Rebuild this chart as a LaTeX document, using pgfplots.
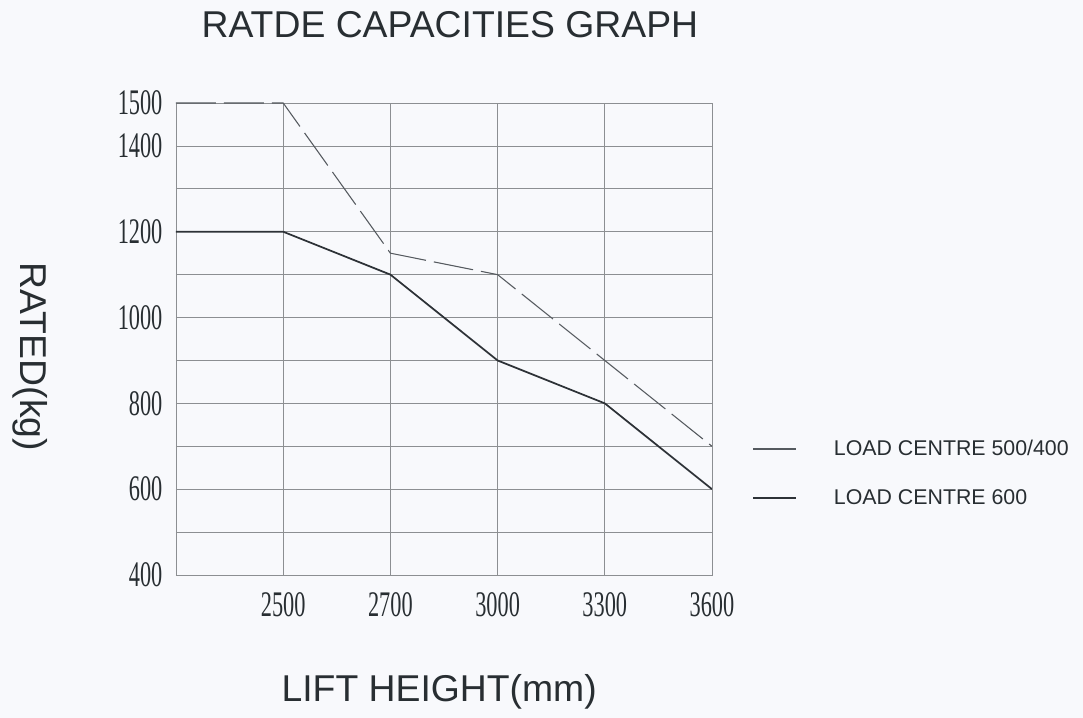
\documentclass[border=0pt]{standalone}
\usepackage{pgfplots}
\pgfplotsset{compat=1.18}
\usepackage{fontspec}
\setmainfont{Liberation Sans}
\newfontfamily\tickfont{Liberation Serif}
\usepackage{graphicx}

\definecolor{bgc}{RGB}{248,249,252}
\definecolor{gridc}{RGB}{140,143,146}
\definecolor{txt}{RGB}{40,46,50}
\definecolor{lineA}{RGB}{85,90,95}
\definecolor{lineB}{RGB}{45,50,55}

% condensed tick numbers
\newcommand\cnum[1]{\scalebox{0.62}[1]{\tickfont\fontsize{27}{27}\selectfont #1}}

\begin{document}
\begin{tikzpicture}
  \fill[bgc] (-132pt,-107.25pt) rectangle (680.25pt,431.25pt);
  \begin{axis}[
      at={(0,0)}, anchor=south west,
      scale only axis,
      width=402pt, height=354pt,
      xmin=0, xmax=5, ymin=400, ymax=1500,
      xtick={1,2,3,4,5},
      xticklabels={\cnum{2500},\cnum{2700},\cnum{3000},\cnum{3300},\cnum{3600}},
      ytick={400,500,...,1500},
      yticklabels={\cnum{400},,\cnum{600},,\cnum{800},,\cnum{1000},,\cnum{1200},,\cnum{1400},\cnum{1500}},
      major tick length=0pt,
      grid=major,
      grid style={gridc, line width=0.6pt},
      axis line style={gridc, line width=0.7pt},
      ticklabel style={text=txt, inner sep=0pt},
      xticklabel style={anchor=north, yshift=-13pt},
      yticklabel style={anchor=east, xshift=-10pt},
      title={RATDE CAPACITIES GRAPH},
      title style={at={(0.511,1.150)}, anchor=center, font=\fontsize{28}{28}\selectfont, text=txt},
      xlabel={LIFT HEIGHT(mm)},
      ylabel={RATED(kg)},
      every axis x label/.style={at={(rel axis cs:0.491,-0.2476)}, anchor=center, font=\fontsize{28}{28}\selectfont, text=txt},
      every axis y label/.style={at={(rel axis cs:-0.2724,0.462)}, anchor=center, rotate=-90, font=\fontsize{28}{28}\selectfont, text=txt},
      legend style={at={(rel axis cs:1.0746,0.286)}, anchor=north west, draw=none, fill=none,
        font=\fontsize{16}{16}\selectfont, text=txt, row sep=24pt, column sep=28pt,
        nodes={inner sep=0pt}, inner sep=0pt},
      legend cell align=left,
      legend image code/.code={\draw[#1, solid] (0pt,0pt) -- (32pt,0pt);},
    ]
    \addplot[lineA, line width=0.8pt, dash pattern=on 30pt off 6pt]
      coordinates {(0,1500) (1,1500) (2,1150) (3,1100) (4,900) (5,700)};
    \addlegendentry{LOAD CENTRE 500/400}
    \addplot[lineB, line width=1.3pt]
      coordinates {(0,1200) (1,1200) (2,1100) (3,900) (4,800) (5,600)};
    \addlegendentry{LOAD CENTRE 600}
  \end{axis}
\end{tikzpicture}
\end{document}
